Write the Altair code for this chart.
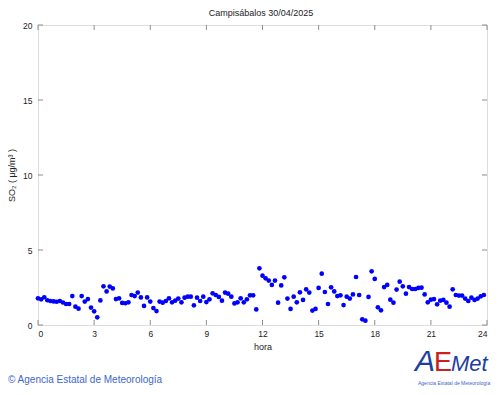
import altair as alt
import pandas as pd

# SO2 values every 10 minutes (00:00 .. 23:50)
so2 = [
    1.78, 1.71, 1.85, 1.65, 1.6, 1.57, 1.55, 1.6, 1.5, 1.4,
    1.4, 1.93, 1.22, 1.09, 1.93, 1.56, 1.73, 1.16, 0.91, 0.51,
    1.64, 2.58, 2.24, 2.56, 2.44, 1.73, 1.78, 1.47, 1.45, 1.51,
    2.0, 1.93, 2.16, 1.84, 1.27, 1.84, 1.56, 1.13, 0.93, 1.56,
    1.49, 1.6, 1.78, 1.51, 1.62, 1.76, 1.51, 1.82, 1.89,
    1.89, 1.31, 1.82, 1.6, 1.89, 1.53, 1.71, 2.11, 2.0, 1.87,
    1.62, 2.16, 2.09, 1.89, 1.44, 1.51, 1.78, 1.51, 1.71, 1.98,
    1.98, 1.04, 3.78, 3.29, 3.11, 2.96, 2.67, 2.96, 1.49, 2.64,
    3.18, 1.76, 1.07, 1.89, 1.51, 2.18, 1.67, 2.38, 2.16, 0.96,
    1.07, 2.47, 3.42, 2.2, 1.4, 2.51, 2.24, 1.93,
    1.98, 1.33, 1.89, 1.76, 2.04, 3.2, 2.0, 0.38, 0.29, 1.87,
    3.58, 3.07, 1.18, 0.98, 2.53, 2.67, 1.69, 1.49, 2.36, 2.89,
    2.58, 2.09, 2.53, 2.4, 2.4, 2.47, 2.49, 2.04, 1.51, 1.69,
    1.73, 1.38, 1.62, 1.67, 1.49, 1.22, 2.38, 2.0, 1.96, 1.96,
    1.76, 1.6, 1.82, 1.67, 1.76, 1.91, 2.0,
]
hours = [i / 6 for i in range(len(so2))]
x_ticks = [0, 3, 6, 9, 12, 15, 18, 21, 24]
y_ticks = [0, 5, 10, 15, 20]
title_text = ["Campisábalos 30/04/2025"]
footer_text = ["© Agencia Estatal de Meteorología"]
logo_small = ["Agencia Estatal de Meteorología"]

W, H = 449, 300
FONT = "Liberation Sans"
GRAY = "#8c8c8c"

df = pd.DataFrame({"hora": hours, "so2": so2})
xt = pd.DataFrame({"hora": x_ticks})
yt = pd.DataFrame({"so2": y_ticks})

xs = alt.Scale(domain=[0, 24], nice=False, zero=False)
ys = alt.Scale(domain=[0, 20], nice=False)

x_axis = alt.Axis(values=x_ticks, title="hora", ticks=False, domain=False,
                  grid=False, labelPadding=4, titlePadding=5, format="d",
                  labelFontSize=8.5, titleFontSize=9, titleFontWeight="normal",
                  labelFont=FONT, titleFont=FONT, labelColor="#222",
                  titleColor="#222")
y_axis = alt.Axis(values=y_ticks, title="SO₂ ( μg/m³ )", ticks=False,
                  domain=False, grid=False, labelPadding=6, titlePadding=6,
                  format="d", labelFontSize=8.5, titleFontSize=9,
                  titleFontWeight="normal", labelFont=FONT, titleFont=FONT,
                  labelColor="#222", titleColor="#222")

X = alt.X("hora:Q", scale=xs, axis=x_axis, title="hora")
Y = alt.Y("so2:Q", scale=ys, axis=y_axis, title="SO₂ ( μg/m³ )")

points = alt.Chart(df).mark_circle(size=22, color="#0000ff", opacity=1).encode(x=X, y=Y)

xb = alt.Chart(xt).mark_rule(color=GRAY).encode(x=X, y=alt.value(H), y2=alt.value(H - 5))
xtp = alt.Chart(xt).mark_rule(color=GRAY).encode(x=X, y=alt.value(0), y2=alt.value(5))
yl = alt.Chart(yt).mark_rule(color=GRAY).encode(y=Y, x=alt.value(0), x2=alt.value(5))
yr = alt.Chart(yt).mark_rule(color=GRAY).encode(y=Y, x=alt.value(W), x2=alt.value(W - 5))

title = alt.Chart(pd.DataFrame({"t": title_text})).mark_text(
    font=FONT, fontSize=9, color="#222", baseline="middle", align="center").encode(
    text="t:N", x=alt.value(223), y=alt.value(-12))

footer = alt.Chart(pd.DataFrame({"t": footer_text})).mark_text(
    font=FONT, fontSize=10, color="#3d66cc", baseline="middle", align="left").encode(
    text="t:N", x=alt.value(-30), y=alt.value(355))

logo_a = alt.Chart(pd.DataFrame({"t": ["A"]})).mark_text(
    font=FONT, fontSize=30, color="#1f3f9f", baseline="alphabetic", align="left",
    fontStyle="italic").encode(text="t:N", x=alt.value(377), y=alt.value(346))
logo_e = alt.Chart(pd.DataFrame({"t": ["E"]})).mark_text(
    font=FONT, fontSize=27, color="#cc2020", baseline="alphabetic", align="left").encode(
    text="t:N", x=alt.value(396), y=alt.value(346))
logo_m = alt.Chart(pd.DataFrame({"t": ["Met"]})).mark_text(
    font=FONT, fontSize=22, color="#1f3f9f", baseline="alphabetic", align="left",
    fontStyle="italic").encode(text="t:N", x=alt.value(413), y=alt.value(346))
logo_s = alt.Chart(pd.DataFrame({"t": logo_small})).mark_text(
    font=FONT, fontSize=5, color="#3d66cc", baseline="middle", align="left").encode(
    text="t:N", x=alt.value(380), y=alt.value(358))

chart = alt.layer(points, xb, xtp, yl, yr, title, footer, logo_a, logo_e, logo_m, logo_s).properties(
    width=W, height=H,
    autosize=alt.AutoSizeParams(type="none"),
    padding={"left": 30, "top": 17, "right": 5, "bottom": 62},
).configure_view(stroke=GRAY, strokeWidth=1).configure(background="white")

chart.save("out.html", embed_options={"renderer": "svg", "actions": False})
